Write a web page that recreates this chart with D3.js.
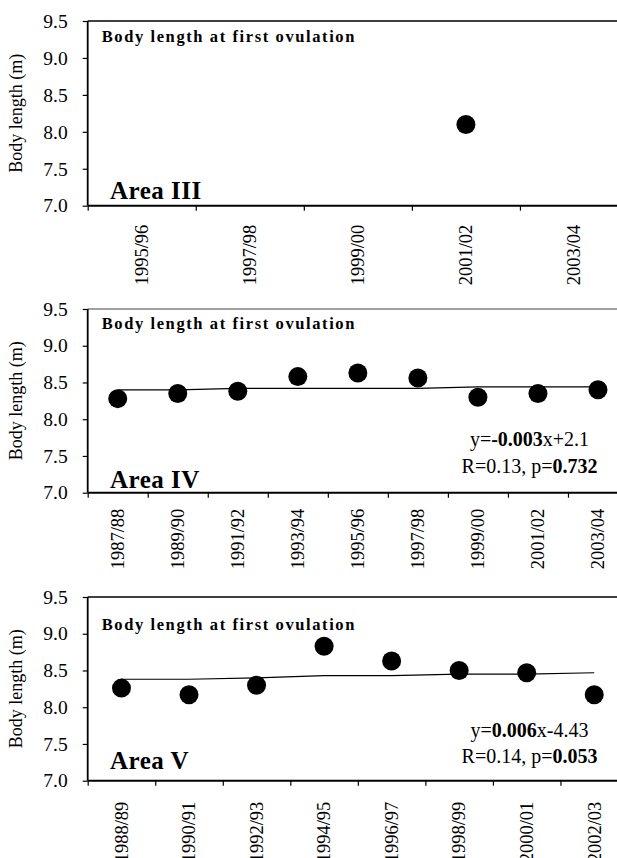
<!DOCTYPE html>
<html>
<head>
<meta charset="utf-8">
<script src="https://cdn.jsdelivr.net/npm/d3@7"></script>
<style>
  html, body { margin: 0; padding: 0; background: #fff; }
  svg text { font-family: 'Liberation Serif', 'Times New Roman', Times, serif !important; }
</style>
</head>
<body>
<svg id="chart" width="617" height="858"></svg>
<script>
// Body length at first ovulation, by season, for three whaling areas
const yTicks = [7.0, 7.5, 8.0, 8.5, 9.0, 9.5];

const areaIIISeasons = ["1995/96", "1997/98", "1999/00", "2001/02", "2003/04"];
const areaIIIValues  = [null, null, null, 8.10, null];

const areaIVSeasons = ["1987/88", "1989/90", "1991/92", "1993/94", "1995/96", "1997/98", "1999/00", "2001/02", "2003/04"];
const areaIVValues  = [8.28, 8.35, 8.38, 8.58, 8.63, 8.56, 8.30, 8.35, 8.40];
const areaIVTrend   = [8.40, 8.40, 8.42, 8.42, 8.42, 8.42, 8.44, 8.44, 8.44];

const areaVSeasons = ["1988/89", "1990/91", "1992/93", "1994/95", "1996/97", "1998/99", "2000/01", "2002/03"];
const areaVValues  = [8.26, 8.17, 8.30, 8.83, 8.63, 8.50, 8.47, 8.17];
const areaVTrend   = [8.38, 8.38, 8.40, 8.43, 8.43, 8.45, 8.45, 8.47];

const panelTitle = "Body length at first ovulation";
const yTitle = "Body length (m)";

const panels = [
  { area: "Area III", seasons: areaIIISeasons, values: areaIIIValues, trend: null,
    top: 21, bottom: 205.7, titleDy: 20.7, areaDy: 6.4, labelGap: 19, topStroke: "#000",
    stats: null },
  { area: "Area IV", seasons: areaIVSeasons, values: areaIVValues, trend: areaIVTrend,
    top: 309, bottom: 492.7, titleDy: 20.3, areaDy: 4.4, labelGap: 16, topStroke: "#808080",
    stats: { line1: [["y=", false], ["-0.003", true], ["x+2.1", false]],
             line2: [["R=0.13, p=", false], ["0.732", true]],
             y1: 446, y2: 472.7 } },
  { area: "Area V", seasons: areaVSeasons, values: areaVValues, trend: areaVTrend,
    top: 597, bottom: 780.7, titleDy: 33, areaDy: 11.7, labelGap: 21, topStroke: "#000",
    stats: { line1: [["y=", false], ["0.006", true], ["x-4.43", false]],
             line2: [["R=0.14, p=", false], ["0.053", true]],
             y1: 736.7, y2: 763.3 } }
];

const xLeft = 87.7, xRight = 628;
const svg = d3.select("#chart");
svg.append("rect").attr("width", 617).attr("height", 858).attr("fill", "#fff");

panels.forEach(p => {
  const g = svg.append("g");
  const x = d3.scaleBand().domain(p.seasons).range([xLeft, xRight]).paddingInner(0).paddingOuter(0);
  const xEdges = d3.scaleLinear().domain([0, p.seasons.length]).range([xLeft, xRight]);
  const y = d3.scaleLinear().domain([7.0, 9.5]).range([p.bottom, p.top]);

  // plot frame: top border
  g.append("line")
    .attr("x1", xLeft).attr("x2", xRight)
    .attr("y1", y(9.5)).attr("y2", y(9.5))
    .attr("stroke", p.topStroke).attr("stroke-width", 1.5);

  // y axis
  const yAxis = g.append("g")
    .attr("transform", `translate(${xLeft},0)`)
    .call(d3.axisLeft(y).tickValues(yTicks).tickFormat(d3.format(".1f")).tickSize(5).tickPadding(15));
  yAxis.select(".domain").attr("stroke", "#000").attr("stroke-width", 1.8).attr("d", `M0,${y(9.5)}V${y(7.0)}`);
  yAxis.selectAll(".tick line").attr("stroke", "#000").attr("stroke-width", 1.2);
  yAxis.selectAll(".tick text").attr("font-size", 19.5).attr("fill", "#000");

  // x axis: boundary ticks between seasons
  const xTickAxis = g.append("g")
    .attr("transform", `translate(0,${p.bottom})`)
    .call(d3.axisBottom(xEdges).tickValues(d3.range(0, p.seasons.length + 1)).tickSize(5).tickFormat(""));
  xTickAxis.select(".domain").attr("stroke", "#000").attr("stroke-width", 2).attr("d", `M${xLeft},0H${xRight}`);
  xTickAxis.selectAll(".tick line").attr("stroke", "#000").attr("stroke-width", 1.2);

  // x axis: season labels, rotated, centred in each band
  const xLabelAxis = g.append("g")
    .attr("transform", `translate(0,${p.bottom})`)
    .call(d3.axisBottom(x).tickSize(0).tickPadding(0));
  xLabelAxis.select(".domain").remove();
  xLabelAxis.selectAll(".tick text")
    .attr("font-size", 18.5).attr("fill", "#000")
    .attr("text-anchor", "end")
    .attr("transform", `translate(0,${p.labelGap}) rotate(-90)`)
    .attr("x", 0).attr("y", 0).attr("dy", "0.34em");

  // y axis title
  g.append("text")
    .attr("transform", `translate(22,${(p.top + p.bottom) / 2}) rotate(-90)`)
    .attr("text-anchor", "middle")
    .attr("font-size", 18)
    .text(yTitle);

  // panel title
  g.append("text")
    .attr("x", 101.7).attr("y", p.top + p.titleDy)
    .attr("font-size", 16.5).attr("font-weight", "bold")
    .attr("letter-spacing", 1.6)
    .text(panelTitle);

  // area label
  g.append("text")
    .attr("x", 110).attr("y", p.bottom - p.areaDy)
    .attr("font-size", 25).attr("font-weight", "bold")
    .attr("letter-spacing", 0.5)
    .text(p.area);

  // trend line
  if (p.trend) {
    const line = d3.line().x((d, i) => x(p.seasons[i]) + x.bandwidth() / 2).y(d => y(d));
    g.append("path").datum(p.trend)
      .attr("d", line).attr("fill", "none").attr("stroke", "#000").attr("stroke-width", 1.1);
  }

  // observed points
  const pts = p.seasons.map((s, i) => ({ s, v: p.values[i] })).filter(d => d.v != null);
  g.selectAll("circle.pt").data(pts).join("circle")
    .attr("class", "pt")
    .attr("cx", d => x(d.s) + x.bandwidth() / 2)
    .attr("cy", d => y(d.v))
    .attr("r", 9.5)
    .attr("fill", "#000");

  // regression statistics
  if (p.stats) {
    [[p.stats.line1, p.stats.y1], [p.stats.line2, p.stats.y2]].forEach(([parts, yy]) => {
      const t = g.append("text").attr("x", 529.5).attr("y", yy)
        .attr("text-anchor", "middle").attr("font-size", 20);
      parts.forEach(([txt, bold]) => {
        t.append("tspan").attr("font-weight", bold ? "bold" : "normal").text(txt);
      });
    });
  }
});
</script>
</body>
</html>
